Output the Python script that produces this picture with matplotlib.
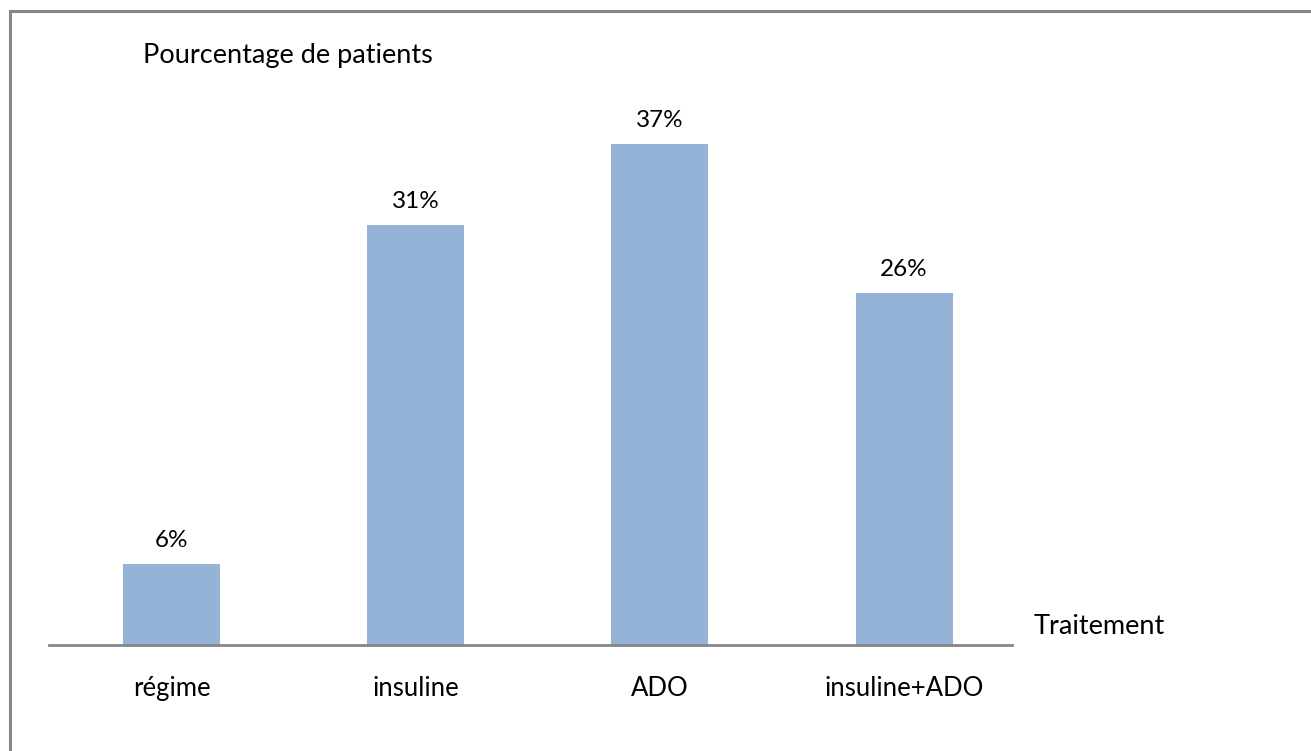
import matplotlib
matplotlib.use("Agg")
import matplotlib.pyplot as plt
from matplotlib.patches import Rectangle

categories = ["régime", "insuline", "ADO", "insuline+ADO"]
percentages = [6, 31, 37, 26]
value_labels = ["6%", "31%", "37%", "26%"]

W, H = 1311, 751
DPI = 100
FS = 19.5
plt.rcParams["font.family"] = ["Lato", "DejaVu Sans"]

fig = plt.figure(figsize=(W / DPI, H / DPI), dpi=DPI)
fig.patch.set_facecolor("white")

# Frame around the chart area (only the top and left edges fall inside the canvas)
fig.add_artist(Rectangle((10 / W, -0.05), 1.2, (751 - 11) / H + 0.05,
                         transform=fig.transFigure, fill=False,
                         edgecolor="#868686", linewidth=2.2))

ax_left, ax_right = 49, 1012
ax_bottom, ax_top = 645, 103.4
ax = fig.add_axes([ax_left / W, (H - ax_bottom) / H,
                   (ax_right - ax_left) / W, (ax_bottom - ax_top) / H])

x = list(range(len(categories)))
ax.bar(x, percentages, width=0.397, color="#95B3D7", edgecolor="none")
ax.set_xlim(-0.502, 3.442)
ax.set_ylim(0, 40)

for xi, v, lab in zip(x, percentages, value_labels):
    ax.annotate(lab, (xi, v), xytext=(0, 13), textcoords="offset pixels",
                ha="center", va="bottom", fontsize=17.5, color="#000000")

ax.set_xticks(x)
ax.set_xticklabels(categories, fontsize=18.5)
ax.tick_params(axis="x", length=0, pad=22)
ax.set_yticks([])
for s in ["top", "right", "left"]:
    ax.spines[s].set_visible(False)
ax.spines["bottom"].set_color("#868686")
ax.spines["bottom"].set_linewidth(2)

fig.text(143 / W, 1 - 55 / H, "Pourcentage de patients", fontsize=FS,
         ha="left", va="center")
fig.text(1034 / W, 1 - 626 / H, "Traitement", fontsize=FS,
         ha="left", va="center")

fig.savefig("out.png", dpi=DPI)
